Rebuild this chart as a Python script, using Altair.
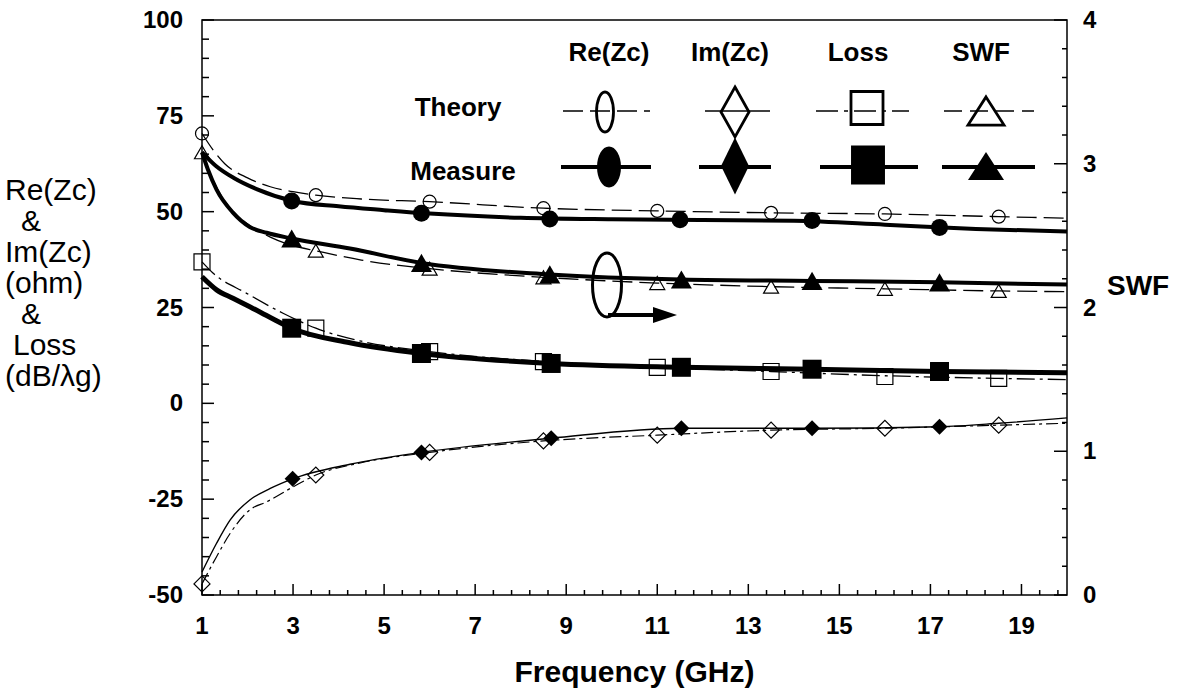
import altair as alt
import numpy as np
import pandas as pd

# ---------------- data ----------------
# Re(Zc) [ohm]
re_meas_curve_f = [1, 1.3, 1.7, 2.2, 3, 4, 5, 6, 8, 10, 12, 14, 16, 18, 20]
re_meas_curve_v = [65.5, 62, 58.8, 55.9, 52.8, 51.4, 50.4, 49.5, 48.4, 48.0, 47.8, 47.6, 46.6, 45.5, 44.8]
re_meas_pts_f = [2.97, 5.82, 8.64, 11.5, 14.4, 17.2]
re_meas_pts_v = [52.8, 49.6, 48.1, 47.9, 47.7, 45.9]
re_theo_curve_f = [1, 1.25, 1.5, 2, 2.5, 3, 3.5, 4.5, 6, 8.5, 11, 13.5, 16, 18.5, 20]
re_theo_curve_v = [70.4, 66, 62.5, 58.8, 56.5, 55.2, 54.3, 53.3, 52.6, 50.9, 50.2, 49.7, 49.4, 48.7, 48.3]
re_theo_pts_f = [1, 3.5, 6, 8.5, 11, 13.5, 16, 18.5]
re_theo_pts_v = [70.4, 54.3, 52.6, 50.9, 50.2, 49.7, 49.4, 48.7]

# Im(Zc) [ohm]
im_meas_curve_f = [1, 1.32, 1.62, 2.05, 2.5, 2.99, 4.25, 5.82, 8.67, 11.53, 14.4, 17.2, 18.5, 20]
im_meas_curve_v = [-44, -36.5, -30.4, -25.2, -22.2, -19.7, -15.9, -12.8, -9.1, -6.5, -6.5, -6.1, -5.2, -3.8]
im_meas_pts_f = [2.99, 5.82, 8.67, 11.53, 14.4, 17.2]
im_meas_pts_v = [-19.7, -12.8, -9.1, -6.5, -6.5, -6.1]
im_theo_curve_f = [1, 1.32, 1.62, 2.05, 2.42, 3, 3.5, 4.5, 6, 8.5, 11, 13.5, 16, 18.5, 20]
im_theo_curve_v = [-47.1, -40, -33.9, -27.8, -25.7, -21.8, -18.7, -15.5, -12.8, -9.8, -8.3, -7.0, -6.5, -5.7, -5.2]
im_theo_pts_f = [1, 3.5, 6, 8.5, 11, 13.5, 16, 18.5]
im_theo_pts_v = [-47.1, -18.7, -12.8, -9.8, -8.3, -7.0, -6.5, -5.7]

# Loss [dB/lambda_g]
loss_meas_curve_f = [1, 1.32, 1.68, 2.05, 2.5, 2.97, 4.25, 5.82, 8.67, 11.53, 14.4, 17.2, 20]
loss_meas_curve_v = [33, 29.6, 27.4, 25.2, 22.4, 19.6, 15.8, 13.0, 10.4, 9.4, 8.9, 8.3, 8.0]
loss_meas_pts_f = [2.97, 5.82, 8.67, 11.53, 14.4, 17.2]
loss_meas_pts_v = [19.6, 13.0, 10.4, 9.4, 8.9, 8.3]
loss_theo_curve_f = [1, 1.24, 1.98, 2.78, 3.5, 4.5, 6, 8.5, 11, 13.5, 16, 18.5, 20]
loss_theo_curve_v = [36.9, 34, 28.7, 23.5, 19.6, 16.2, 13.5, 10.9, 9.4, 8.3, 7.2, 6.5, 6.2]
loss_theo_pts_f = [1, 3.5, 6, 8.5, 11, 13.5, 16, 18.5]
loss_theo_pts_v = [36.9, 19.6, 13.5, 10.9, 9.4, 8.3, 7.0, 6.5]

# SWF (right axis)
swf_meas_curve_f = [1, 1.13, 1.32, 1.68, 2.05, 2.42, 2.97, 4.25, 5.82, 8.64, 11.53, 14.4, 17.2, 20]
swf_meas_curve_v = [3.08, 2.96, 2.82, 2.66, 2.56, 2.52, 2.48, 2.41, 2.31, 2.23, 2.195, 2.185, 2.175, 2.16]
swf_meas_pts_f = [2.97, 5.82, 8.64, 11.53, 14.4, 17.2]
swf_meas_pts_v = [2.48, 2.31, 2.23, 2.195, 2.185, 2.175]
swf_theo_curve_f = [1, 1.25, 1.5, 2, 2.5, 3, 3.5, 4.5, 6, 8.5, 11, 13.5, 16, 18.5, 20]
swf_theo_curve_v = [3.08, 2.88, 2.74, 2.58, 2.49, 2.43, 2.395, 2.33, 2.27, 2.21, 2.17, 2.145, 2.13, 2.115, 2.11]
swf_theo_pts_f = [1, 3.5, 6, 8.5, 11, 13.5, 16, 18.5]
swf_theo_pts_v = [3.08, 2.395, 2.27, 2.21, 2.17, 2.145, 2.13, 2.115]

# axis ticks / labels / texts
x_labels = [1, 3, 5, 7, 9, 11, 13, 15, 17, 19]
left_labels = [-50, -25, 0, 25, 50, 75, 100]
left_label_text = ["-50", "-25", "0", "25", "50", "75", "100"]
right_labels = [0, 1, 2, 3, 4]
x_title = "Frequency (GHz)"
right_title = "SWF"
left_title = ["Re(Zc)", "&", "Im(Zc)", "(ohm)", "&", "Loss", "(dB/\u03bbg)"]
legend_headers = ["Re(Zc)", "Im(Zc)", "Loss", "SWF"]
legend_rows = ["Theory", "Measure"]

# ---------------- layout ----------------
W, H = 865, 575
FONT = "Liberation Sans"

xscale = alt.Scale(domain=[1, 20], nice=False, zero=False)
lscale = alt.Scale(domain=[-50, 100], nice=False, zero=False)
rscale = alt.Scale(domain=[0, 4], nice=False, zero=False)

ONE = pd.DataFrame({"k": [0]})


def df(f, v):
    return pd.DataFrame({"f": f, "v": v})


def X():
    return alt.X("f:Q", scale=xscale, axis=None)


def Y(scale):
    return alt.Y("v:Q", scale=scale, axis=None)


def curve(f, v, scale, width, dash=None):
    kw = dict(color="black", strokeWidth=width, interpolate="monotone")
    if dash:
        kw["strokeDash"] = dash
    return alt.Chart(df(f, v)).mark_line(**kw).encode(x=X(), y=Y(scale))


def points(f, v, scale, shape, size, filled, sw=1.2):
    if filled:
        m = alt.Chart(df(f, v)).mark_point(shape=shape, size=size, filled=True,
                                           color="black", opacity=1)
    else:
        m = alt.Chart(df(f, v)).mark_point(shape=shape, size=size, filled=False,
                                           color="black", strokeWidth=sw, opacity=1)
    return m.encode(x=X(), y=Y(scale))


def lg_sym(x, y, shape, size, filled, sw=2.8):
    if filled:
        m = alt.Chart(ONE).mark_point(shape=shape, size=size, filled=True,
                                      color="black", opacity=1)
    else:
        m = alt.Chart(ONE).mark_point(shape=shape, size=size, filled=False,
                                      color="black", strokeWidth=sw, opacity=1)
    return m.encode(x=alt.value(x), y=alt.value(y))


def lg_line(x1, x2, y, width, dash=None):
    kw = dict(color="black", strokeWidth=width)
    if dash:
        kw["strokeDash"] = dash
    return alt.Chart(ONE).mark_rule(**kw).encode(
        x=alt.value(x1), x2=alt.value(x2), y=alt.value(y))


def txt(s, x, y, size=26, weight="bold", align="center", baseline="middle"):
    return alt.Chart(ONE).mark_text(text=s, font=FONT, fontSize=size, fontWeight=weight,
                                    align=align, baseline=baseline, color="black").encode(
        x=alt.value(x), y=alt.value(y))


def ellipse(a):
    return f"M0,-1 A{a},1 0 1,1 0,1 A{a},1 0 1,1 0,-1 Z"


def diamond(a):
    return f"M0,-1 L{a},0 L0,1 L-{a},0 Z"


def rect(a):
    return f"M-{a},-1 L{a},-1 L{a},1 L-{a},1 Z"


TRI = "M0,-0.78 L1,0.78 L-1,0.78 Z"
ARROW = "M-1,-0.67 L1,0 L-1,0.67 Z"

LBL = dict(font=FONT, fontSize=24, fontWeight="bold", color="black")

# ---------------- axis labels (text through the scales) ----------------
x_lab = alt.Chart(pd.DataFrame({"f": x_labels})).mark_text(align="center", baseline="top", **LBL).encode(
    x=X(), y=alt.value(H + 20), text=alt.Text("f:Q", format="d"))
l_lab = alt.Chart(pd.DataFrame({"v": left_labels, "t": left_label_text})).mark_text(
    align="right", baseline="middle", dy=1, **LBL).encode(
    y=Y(lscale), x=alt.value(-19), text="t:N")
r_lab = alt.Chart(pd.DataFrame({"v": right_labels})).mark_text(align="left", baseline="middle", dy=1, **LBL).encode(
    y=Y(rscale), x=alt.value(W + 16), text=alt.Text("v:Q", format="d"))

# left axis title: one text per line (left edge, baseline) in page offsets from the plot
title_x = [-197, -181, -197, -197, -181, -189, -197]
title_y0, title_step = 180, 31
left_title_layers = [
    txt(s, title_x[i], title_y0 + i * title_step, size=30, weight="normal",
        align="left", baseline="alphabetic")
    for i, s in enumerate(left_title)
]

# ---------------- ticks (inward) ----------------
x_minor = [round(t, 1) for t in np.arange(1, 20.01, 0.4) if round(t, 1) not in x_labels]
l_minor = [t for t in range(-50, 101, 5) if t not in left_labels]
r_minor = [round(t, 1) for t in np.arange(0, 4.01, 0.2) if round(t, 1) not in right_labels]

TK = dict(color="black", strokeWidth=1.5)
x_major_ticks = alt.Chart(pd.DataFrame({"f": x_labels})).mark_rule(**TK).encode(
    x=X(), y=alt.value(H), y2=alt.value(H - 11))
x_minor_ticks = alt.Chart(pd.DataFrame({"f": x_minor})).mark_rule(**TK).encode(
    x=X(), y=alt.value(H), y2=alt.value(H - 5))
l_major_ticks = alt.Chart(pd.DataFrame({"v": left_labels})).mark_rule(**TK).encode(
    y=Y(lscale), x=alt.value(0), x2=alt.value(12))
l_minor_ticks = alt.Chart(pd.DataFrame({"v": l_minor})).mark_rule(**TK).encode(
    y=Y(lscale), x=alt.value(0), x2=alt.value(7))
r_major_ticks = alt.Chart(pd.DataFrame({"v": right_labels})).mark_rule(**TK).encode(
    y=Y(rscale), x=alt.value(W), x2=alt.value(W - 13))
r_minor_ticks = alt.Chart(pd.DataFrame({"v": r_minor})).mark_rule(**TK).encode(
    y=Y(rscale), x=alt.value(W), x2=alt.value(W - 5))

# ---------------- layers ----------------
left_layers = [
    curve(re_meas_curve_f, re_meas_curve_v, lscale, 4),
    curve(re_theo_curve_f, re_theo_curve_v, lscale, 1.3, [20, 7]),
    curve(im_theo_curve_f, im_theo_curve_v, lscale, 1.2, [12, 4, 3, 4]),
    curve(im_meas_curve_f, im_meas_curve_v, lscale, 1.4),
    curve(loss_theo_curve_f, loss_theo_curve_v, lscale, 1.3, [18, 5, 3, 5]),
    curve(loss_meas_curve_f, loss_meas_curve_v, lscale, 5),
    l_major_ticks, l_minor_ticks, x_major_ticks, x_minor_ticks,
    x_lab, l_lab,
    points(re_theo_pts_f, re_theo_pts_v, lscale, "circle", 169, False),
    points(re_meas_pts_f, re_meas_pts_v, lscale, "circle", 289, True),
    points(im_theo_pts_f, im_theo_pts_v, lscale, "diamond", 256, False),
    points(im_meas_pts_f, im_meas_pts_v, lscale, "diamond", 256, True),
    points(loss_theo_pts_f, loss_theo_pts_v, lscale, "square", 256, False),
    points(loss_meas_pts_f, loss_meas_pts_v, lscale, "square", 361, True),
    # axis titles
    txt(x_title, W / 2, H + 87, size=30, baseline="alphabetic"),
    *left_title_layers,
    txt(right_title, W + 40, 267, size=28, align="left"),
    # legend table
    txt(legend_headers[0], 407, 33), txt(legend_headers[1], 528, 33),
    txt(legend_headers[2], 656, 33), txt(legend_headers[3], 779, 33),
    txt(legend_rows[0], 256, 88), txt(legend_rows[1], 261, 152),
    lg_line(361, 448, 91, 1.5, [20, 7]),
    lg_line(503, 568, 91, 1.5),
    lg_line(614, 707, 91, 1.5, [22, 6, 4, 6]),
    lg_line(742, 832, 91, 1.5, [18, 8]),
    lg_line(359, 449, 147, 4), lg_line(497, 569, 147, 4),
    lg_line(618, 716, 147, 4), lg_line(740, 833, 147, 4),
    lg_sym(403, 92, ellipse(0.425), 1600, False),
    lg_sym(533, 92, diamond(0.56), 2500, False),
    lg_sym(665, 88, rect(0.97), 1089, False),
    lg_sym(784, 91, TRI, 1296, False),
    lg_sym(407, 147, ellipse(0.585), 1681, True),
    lg_sym(533, 146, diamond(0.49), 3249, True),
    lg_sym(666, 145, rect(0.87), 1521, True),
    lg_sym(784, 146, TRI, 1296, True),
    # right-axis annotation (ellipse + arrow)
    lg_sym(405, 265, ellipse(0.453), 4096, False, 3),
    lg_line(406, 456, 295, 4),
    lg_sym(463, 295, ARROW, 576, True),
]

right_layers = [
    curve(swf_meas_curve_f, swf_meas_curve_v, rscale, 4),
    curve(swf_theo_curve_f, swf_theo_curve_v, rscale, 1.3, [20, 7]),
    r_major_ticks, r_minor_ticks, r_lab,
    points(swf_theo_pts_f, swf_theo_pts_v, rscale, "triangle-up", 225, False),
    points(swf_meas_pts_f, swf_meas_pts_v, rscale, "triangle-up", 441, True),
]

left = alt.layer(*left_layers)
right = alt.layer(*right_layers)

chart = alt.layer(left, right).resolve_scale(y="independent").properties(
    width=W, height=H,
    autosize=alt.AutoSizeParams(type="none"),
    padding={"left": 202, "top": 20, "right": 116, "bottom": 98},
    background="white",
).configure_view(stroke="black", strokeWidth=1.5)

chart.save("out.html", embed_options={"renderer": "svg", "actions": False})
